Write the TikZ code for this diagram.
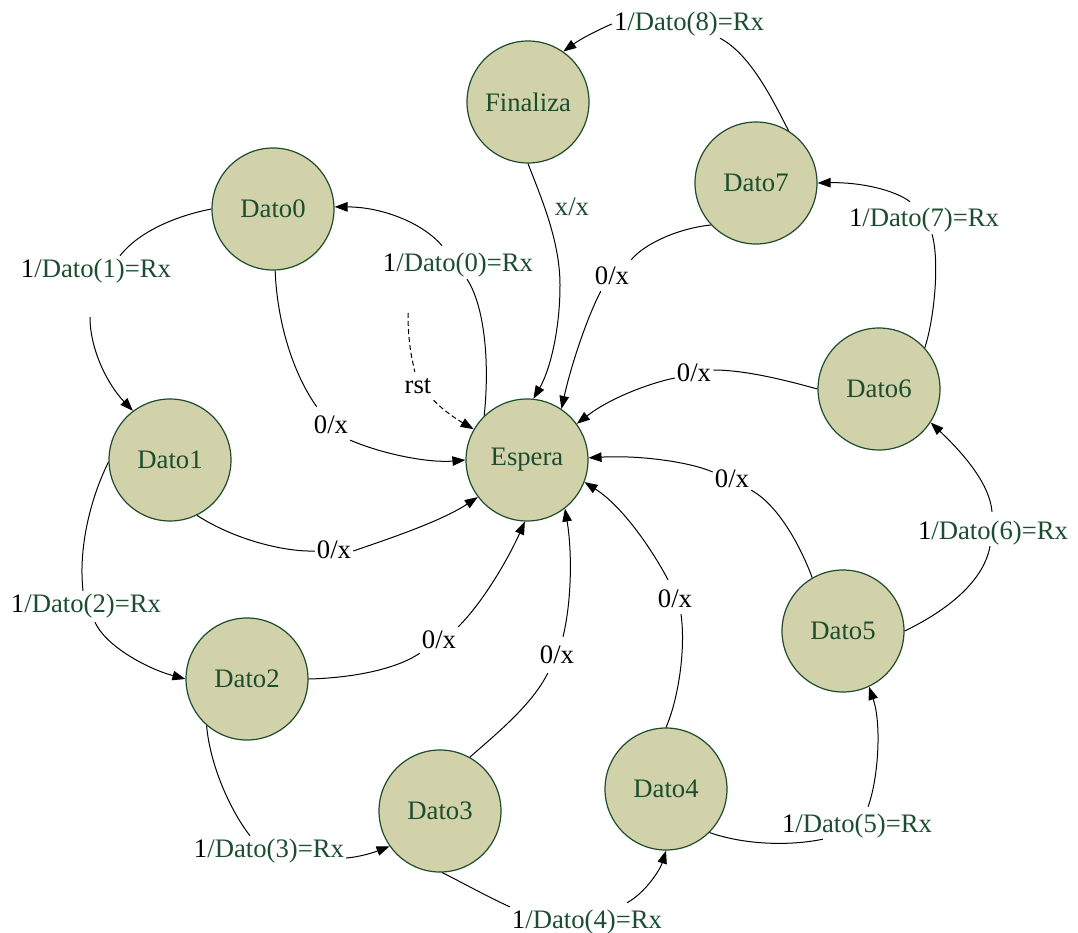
\documentclass[tikz,border=0pt]{standalone}
\usepackage{fontspec}
\setmainfont{Liberation Serif}
\usetikzlibrary{arrows.meta}

\definecolor{statefill}{RGB}{209,210,170}
\definecolor{stateline}{RGB}{30,77,46}
\definecolor{textgreen}{RGB}{27,77,46}

% label of a "store byte" transition: the input bit in black, the action in green
\newcommand{\storelab}[1]{1\textcolor{textgreen}{/Dato(#1)=Rx}}

\tikzset{
  state/.style={circle, draw=stateline, line width=1.2pt, fill=statefill,
    minimum size=122pt, inner sep=0pt, text=textgreen,
    font=\fontsize{26.7}{30}\selectfont},
  lab/.style={anchor=base, inner sep=2pt, text height=19pt, text depth=5pt,
    font=\fontsize{26.7}{30}\selectfont},
  edge/.style={line width=1pt},
  arr/.style={edge, -{Triangle[length=13pt,width=9.5pt]}},
  rstline/.style={dash pattern=on 5pt off 3pt},
}

\begin{document}
\begin{tikzpicture}[x=1pt, y=-1pt]
\useasboundingbox (0,0) rectangle (1078,933);

% states
\node[state] (Esp) at (527,460) {Espera};
\node[state] (Fin) at (528,102) {Finaliza};
\node[state] (D0)  at (273,209) {Dato0};
\node[state] (D1)  at (170,460) {Dato1};
\node[state] (D2)  at (247,679) {Dato2};
\node[state] (D3)  at (440,811) {Dato3};
\node[state] (D4)  at (666,789) {Dato4};
\node[state] (D5)  at (843,631) {Dato5};
\node[state] (D6)  at (879,389) {Dato6};
\node[state] (D7)  at (756,183) {Dato7};

% transition labels
\node[lab] (L0) at (458,272) {\storelab{0}};
\node[lab] (L1) at (96,277)  {\storelab{1}};
\node[lab] (L2) at (86,612)  {\storelab{2}};
\node[lab] (L3) at (269,857) {\storelab{3}};
\node[lab] (L4) at (587,928) {\storelab{4}};
\node[lab] (L5) at (857,832) {\storelab{5}};
\node[lab] (L6) at (993,539) {\storelab{6}};
\node[lab] (L7) at (924,227) {\storelab{7}};
\node[lab] (L8) at (689,31)  {\storelab{8}};
\node[lab, text=textgreen] (Lxx) at (572,216) {x/x};
\node[lab] (Lrst) at (418,393) {rst};
\node[lab] (Z0) at (331,433) {0/x};
\node[lab] (Z1) at (334,558) {0/x};
\node[lab] (Z2) at (439,648) {0/x};
\node[lab] (Z3) at (557,663) {0/x};
\node[lab] (Z4) at (675,607) {0/x};
\node[lab] (Z5) at (732,487) {0/x};
\node[lab] (Z6) at (694,381) {0/x};
\node[lab] (Z7) at (612,284) {0/x};

% reset entry
\coordinate (rstin) at (408,313);
\draw[edge, rstline] (rstin) .. controls (408,340) and (411,355) .. (Lrst);
\draw[arr, rstline] (Lrst.south east) .. controls (445,412) and (458,420) .. (Esp.150);

% Espera -> Dato0
\draw[edge] (Esp.134) .. controls (490,360) and (484,305) .. ([xshift=9pt]L0.south);
\draw[arr] ([xshift=-16pt,yshift=5pt]L0.north) .. controls (425,225) and (385,207) .. (D0.2);

% Dato0 -> Dato1
\draw[edge] (D0.180) .. controls (180,215) and (140,230) .. ([xshift=24pt]L1.north);
\draw[arr] ([xshift=-6pt,yshift=-33pt]L1.south) .. controls (90,350) and (108,385) .. (D1.127);

% Dato1 -> Dato2
\draw[edge] (D1.182) .. controls (92,495) and (78,545) .. ([xshift=-3pt]L2.north);
\draw[arr] ([xshift=9pt,yshift=-3pt]L2.south) .. controls (105,645) and (145,668) .. (D2.180);

% Dato2 -> Dato3
\draw[edge] (D2.229) .. controls (210,765) and (230,810) .. ([xshift=-19pt]L3.north);
\draw[arr] ([yshift=-8pt]L3.east) .. controls (360,857) and (375,852) .. (D3.215);

% Dato3 -> Dato4
\draw[edge] (D3.272) .. controls (465,884) and (488,897) .. (L4.north west);
\draw[arr] ([xshift=40pt,yshift=4pt]L4.north) .. controls (645,893) and (660,870) .. (D4.270);

% Dato4 -> Dato5
\draw[edge] (D4.315) .. controls (745,845) and (790,846) .. ([xshift=43pt]L5.south west);
\draw[arr] ([xshift=11pt,yshift=4pt]L5.north) .. controls (878,780) and (882,725) .. (D5.295);

% Dato5 -> Dato6
\draw[edge] (D5.0) .. controls (940,614) and (983,585) .. ([xshift=-3pt]L6.south);
\draw[arr] ([xshift=-1pt,yshift=6pt]L6.north) .. controls (990,485) and (965,455) .. (D6.327);

% Dato6 -> Dato7
\draw[edge] (D6.42) .. controls (934,320) and (940,262) .. ([xshift=8pt]L7.south);
\draw[arr] ([xshift=-14pt,yshift=4pt]L7.north) .. controls (895,190) and (860,182) .. (D7.0);

% Dato7 -> Finaliza
\draw[edge] (D7.58) .. controls (775,105) and (752,55) .. ([xshift=31pt]L8.south);
\draw[arr] (L8.west) .. controls (598,30) and (582,38) .. (Fin.55);

% Finaliza -> Espera
\draw[arr] (Fin.270) .. controls (540,195) and (560,240) .. (560,285)
  .. controls (560,330) and (550,370) .. (Esp.84);

% back to Espera on a 0 bit
\draw[edge] (D0.272) .. controls (277,320) and (292,372) .. ([xshift=5pt,yshift=5pt]Z0.north west);
\draw[arr] (Z0.south east) .. controls (385,455) and (430,463) .. (Esp.180);

\draw[edge] (D1.296) .. controls (235,540) and (285,552) .. (Z1.west);
\draw[arr] (Z1.east) .. controls (385,540) and (440,522) .. (Esp.217);

\draw[edge] (D2.0) .. controls (350,678) and (395,670) .. ([yshift=2pt]Z2.south west);
\draw[arr] (Z2.north east) .. controls (485,600) and (510,555) .. (Esp.268);

\draw[edge] (D3.61) .. controls (495,735) and (532,705) .. ([xshift=10pt,yshift=-3pt]Z3.south west);
\draw[arr] ([xshift=6pt,yshift=5pt]Z3.north) .. controls (572,600) and (572,550) .. (Esp.308);

\draw[edge] (D4.90) .. controls (678,700) and (686,650) .. ([xshift=6pt]Z4.south);
\draw[arr] ([xshift=-7pt,yshift=6pt]Z4.north) .. controls (655,555) and (625,508) .. (Esp.339);

\draw[edge] (D5.120) .. controls (800,545) and (778,505) .. ([yshift=4pt]Z5.south east);
\draw[arr] ([yshift=8pt]Z5.west) .. controls (690,462) and (640,455) .. (Esp.2);

\draw[edge] (D6.180) .. controls (785,380) and (745,370) .. ([yshift=4pt]Z6.east);
\draw[arr] ([yshift=-4pt]Z6.west) .. controls (650,383) and (610,398) .. (Esp.36);

\draw[edge] (D7.223) .. controls (680,228) and (645,243) .. ([yshift=3pt]Z7.north east);
\draw[arr] ([xshift=8pt]Z7.south west) .. controls (585,322) and (570,370) .. (Esp.56);
\end{tikzpicture}
\end{document}
